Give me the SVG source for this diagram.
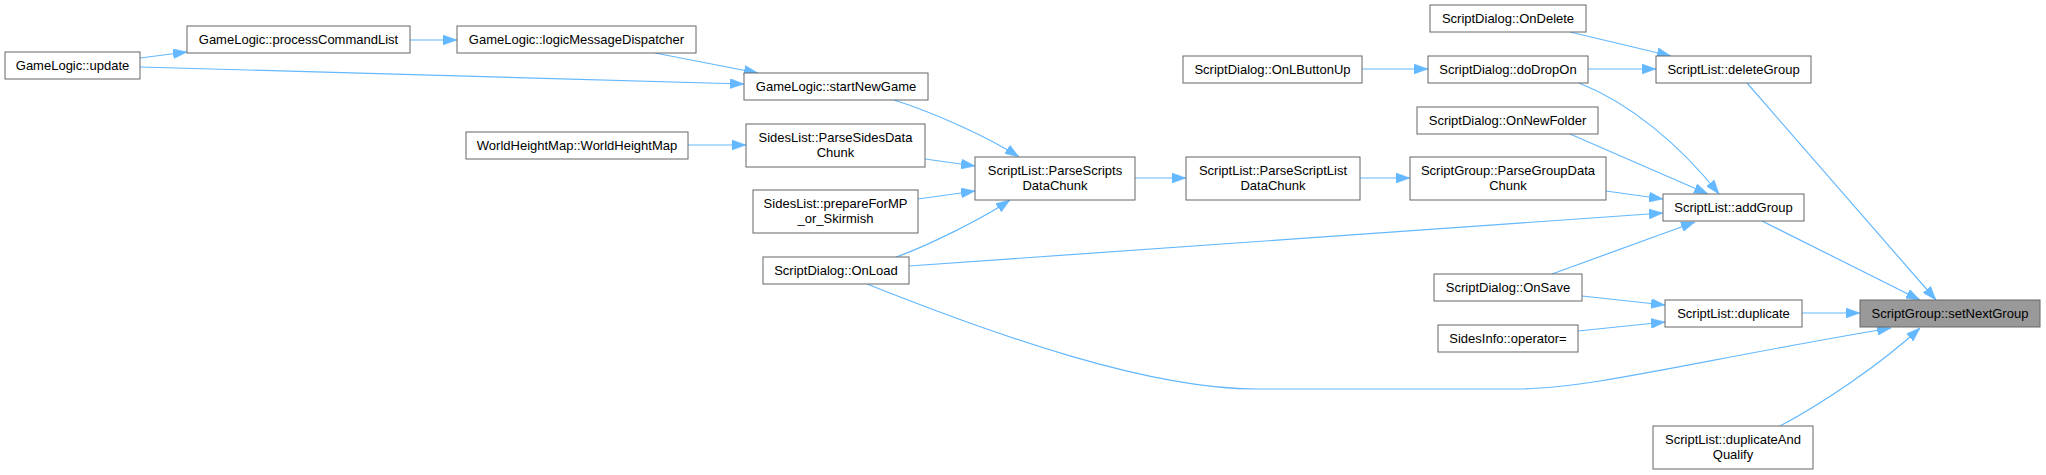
<svg xmlns="http://www.w3.org/2000/svg" width="2046" height="475" viewBox="0 0 2046 475">
<style>
.n rect{fill:#ffffff;stroke:#666666;stroke-width:1}
.n.root rect{fill:#999999}
.n text{font-family:"Liberation Sans",Arial,sans-serif;font-size:13px;fill:#000000;text-anchor:middle}
.e path{fill:none;stroke:#63b8ff;stroke-width:1.2;marker-end:url(#arr)}
</style>
<defs>
<marker id="arr" markerUnits="userSpaceOnUse" viewBox="0 0 14 10" refX="14" refY="5" markerWidth="14" markerHeight="10" orient="auto">
<path d="M0,0 L14,5 L0,10 z" fill="#63b8ff" stroke="#63b8ff" stroke-width="0.5"/>
</marker>
</defs>
<rect x="0" y="0" width="2046" height="475" fill="#ffffff"/>
<g id="edges" class="e">
<path d="M140,58 L187,52"/>
<path d="M140,67 L744,84"/>
<path d="M410,40 L457,40"/>
<path d="M655,53 L758,73"/>
<path d="M894,100 C935,113 990,138 1019,157"/>
<path d="M688,145 L746,145"/>
<path d="M925,159 L975,166"/>
<path d="M918,199 L975,191"/>
<path d="M896,257 C925,247 982,219 1010,200"/>
<path d="M1135,178 L1186,178"/>
<path d="M1360,178 L1410,178"/>
<path d="M1362,69 L1428,69"/>
<path d="M1570,32 L1671,56"/>
<path d="M1588,69 L1656,69"/>
<path d="M1579,83 C1630,103 1680,145 1719,194"/>
<path d="M1570,134 L1708,194"/>
<path d="M1606,191 L1663,199"/>
<path d="M909,266 L1663,213"/>
<path d="M1552,274 L1695,222"/>
<path d="M1762,221 L1920,300"/>
<path d="M1747,83 L1936,300"/>
<path d="M1582,296 L1665,305"/>
<path d="M1578,331 L1665,322"/>
<path d="M1802,313 L1860,313"/>
<path d="M867,284 C1000,337 1150,389 1256,389 L1517,389 C1590,389 1700,360 1891,328"/>
<path d="M1780,426 C1820,405 1880,365 1920,328"/>
</g>
<g id="n_update" class="n"><rect x="5" y="52" width="135" height="27"/><text x="72.5" y="70">GameLogic::update</text></g>
<g id="n_processCommandList" class="n"><rect x="187" y="26" width="223" height="27"/><text x="298.5" y="44">GameLogic::processCommandList</text></g>
<g id="n_logicMessageDispatcher" class="n"><rect x="457" y="26" width="239" height="27"/><text x="576.5" y="44">GameLogic::logicMessageDispatcher</text></g>
<g id="n_startNewGame" class="n"><rect x="744" y="73" width="184" height="27"/><text x="836" y="91">GameLogic::startNewGame</text></g>
<g id="n_WorldHeightMap" class="n"><rect x="466" y="132" width="222" height="27"/><text x="577" y="150">WorldHeightMap::WorldHeightMap</text></g>
<g id="n_ParseSidesDataChunk" class="n"><rect x="746" y="124" width="179" height="43"/><text x="835.5" y="142">SidesList::ParseSidesData</text><text x="835.5" y="157">Chunk</text></g>
<g id="n_ParseScriptsDataChunk" class="n"><rect x="975" y="157" width="160" height="43"/><text x="1055" y="175">ScriptList::ParseScripts</text><text x="1055" y="190">DataChunk</text></g>
<g id="n_prepareForMP" class="n"><rect x="753" y="190" width="165" height="43"/><text x="835.5" y="208">SidesList::prepareForMP</text><text x="835.5" y="223">_or_Skirmish</text></g>
<g id="n_OnLoad" class="n"><rect x="763" y="257" width="146" height="27"/><text x="836" y="275">ScriptDialog::OnLoad</text></g>
<g id="n_ParseScriptListDataChunk" class="n"><rect x="1186" y="157" width="174" height="43"/><text x="1273" y="175">ScriptList::ParseScriptList</text><text x="1273" y="190">DataChunk</text></g>
<g id="n_OnLButtonUp" class="n"><rect x="1183" y="56" width="179" height="27"/><text x="1272.5" y="74">ScriptDialog::OnLButtonUp</text></g>
<g id="n_doDropOn" class="n"><rect x="1428" y="56" width="160" height="27"/><text x="1508" y="74">ScriptDialog::doDropOn</text></g>
<g id="n_OnDelete" class="n"><rect x="1430" y="5" width="156" height="27"/><text x="1508" y="23">ScriptDialog::OnDelete</text></g>
<g id="n_deleteGroup" class="n"><rect x="1656" y="56" width="155" height="27"/><text x="1733.5" y="74">ScriptList::deleteGroup</text></g>
<g id="n_OnNewFolder" class="n"><rect x="1417" y="107" width="181" height="27"/><text x="1507.5" y="125">ScriptDialog::OnNewFolder</text></g>
<g id="n_ParseGroupDataChunk" class="n"><rect x="1410" y="157" width="196" height="43"/><text x="1508" y="175">ScriptGroup::ParseGroupData</text><text x="1508" y="190">Chunk</text></g>
<g id="n_addGroup" class="n"><rect x="1663" y="194" width="141" height="27"/><text x="1733.5" y="212">ScriptList::addGroup</text></g>
<g id="n_OnSave" class="n"><rect x="1434" y="274" width="148" height="27"/><text x="1508" y="292">ScriptDialog::OnSave</text></g>
<g id="n_operatorEq" class="n"><rect x="1438" y="325" width="140" height="27"/><text x="1508" y="343">SidesInfo::operator=</text></g>
<g id="n_duplicate" class="n"><rect x="1665" y="300" width="137" height="27"/><text x="1733.5" y="318">ScriptList::duplicate</text></g>
<g id="n_setNextGroup" class="n root"><rect x="1860" y="300" width="180" height="27"/><text x="1950" y="318">ScriptGroup::setNextGroup</text></g>
<g id="n_duplicateAndQualify" class="n"><rect x="1653" y="426" width="160" height="43"/><text x="1733" y="444">ScriptList::duplicateAnd</text><text x="1733" y="459">Qualify</text></g>
</svg>
